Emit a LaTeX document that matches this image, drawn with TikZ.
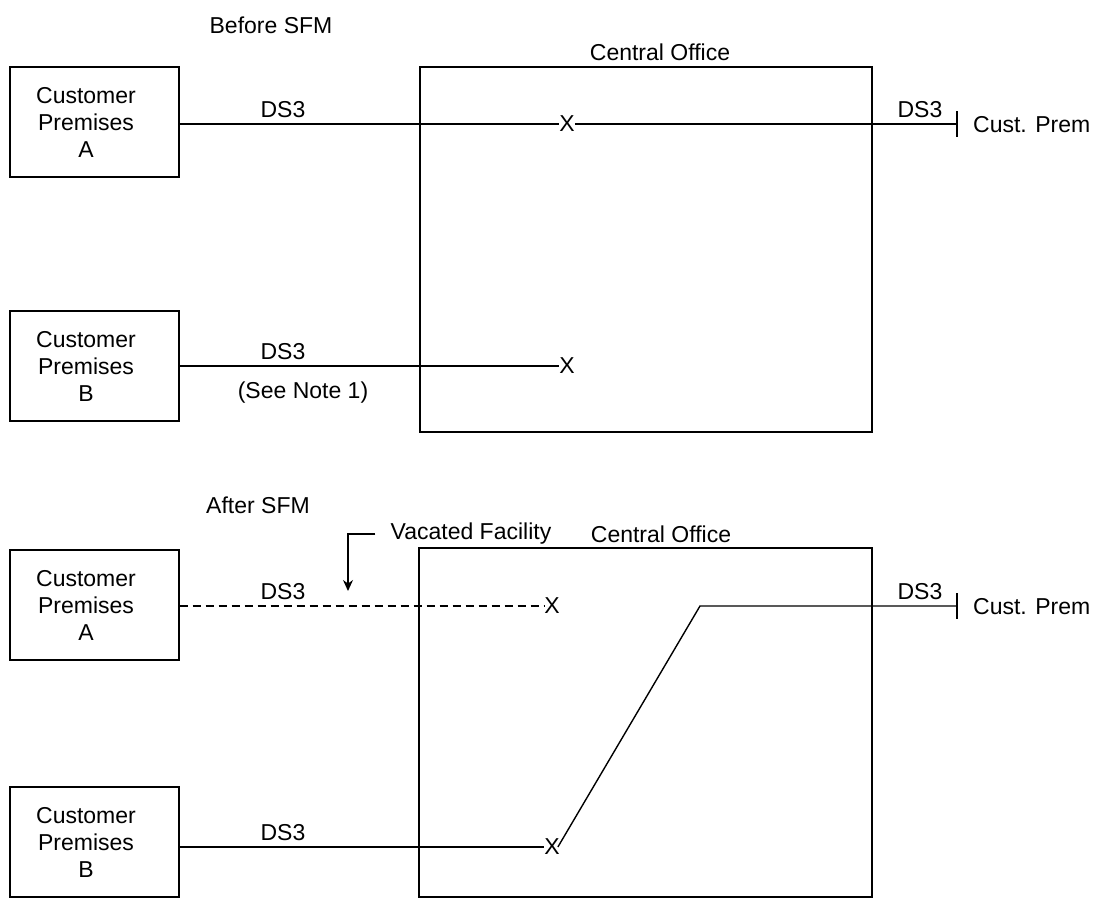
\documentclass[tikz,border=0pt]{standalone}
\usepackage{fontspec}
\setmainfont{Liberation Sans}
\usetikzlibrary{arrows.meta}
\begin{document}
\begin{tikzpicture}[x=1pt,y=-1pt,
  every node/.style={font=\fontsize{23}{27}\selectfont, inner sep=0pt},
  wire/.style={line width=1.4pt},
  dwire/.style={line width=1.4pt, dash pattern=on 8pt off 5pt},
  premise/.style={draw, line width=1.4pt, minimum width=169pt, minimum height=110pt},
  premtext/.style={align=center},
  tick/.style={line width=1.4pt}
]
\useasboundingbox (0,0) rectangle (1098,903);

% ---------- Before SFM ----------
\node (before) at (271,25) {Before SFM};
\node (colab1) at (660,52) {Central Office};
\node[draw, line width=1.4pt, minimum width=452pt, minimum height=365pt] (co1) at (646,249.5) {};

\node[premise] (boxA) at (94.5,122) {};
\node[premtext] (txtA) at (86,122) {Customer\\Premises\\A};
\node[premise] (boxB) at (94.5,366) {};
\node[premtext] (txtB) at (86,366) {Customer\\Premises\\B};

\node (xA) at (567,124) {X};
\node (xB) at (567,366) {X};
\coordinate (tA) at (957,124);

\draw[wire] (boxA.east |- xA.west) -- (xA.west);
\draw[wire] (xA.east) -- (tA);
\draw[tick] (tA) ++(0,-13) -- ++(0,26);
\node[anchor=west] (cpA) at (973,125) {Cust. Prem};
\node (dsA) at (283,110) {DS3};
\node (dsAr) at (920,110) {DS3};

\draw[wire] (boxB.east |- xB.west) -- (xB.west);
\node (dsB) at (283,352) {DS3};
\node (note) at (303,393) {(See Note 1)};

% ---------- After SFM ----------
\node (after) at (258,505) {After SFM};
\node (vac) at (471,534) {Vacated Facility};
\node (colab2) at (661,534) {Central Office};
\node[draw, line width=1.4pt, minimum width=453pt, minimum height=349pt] (co2) at (645.5,722.5) {};

\node[premise] (boxA2) at (94.5,605) {};
\node[premtext] (txtA2) at (86,605) {Customer\\Premises\\A};
\node[premise] (boxB2) at (94.5,842) {};
\node[premtext] (txtB2) at (86,842) {Customer\\Premises\\B};

\coordinate (arrTip) at (348,591);
\draw[wire,-{Stealth[length=11pt,width=10pt]}] ([xshift=-15pt]vac.west) -| (arrTip);

\node (xA2) at (552,606) {X};
\node (xB2) at (552,847) {X};
\coordinate (bend) at (700,606);
\coordinate (tA2) at (957,606);

\draw[dwire] (boxA2.east |- xA2.west) -- (xA2.west);
\node (dsA2) at (283,592) {DS3};

\draw[wire] (boxB2.east |- xB2.west) -- (xB2.west);
\node (dsB2) at (283,833) {DS3};

\draw[wire] ([xshift=-2pt]xB2.east) -- (bend) -- (tA2);
\draw[tick] (tA2) ++(0,-13) -- ++(0,26);
\node[anchor=west] (cpA2) at (973,607) {Cust. Prem};
\node (dsA2r) at (920,592) {DS3};
\end{tikzpicture}
\end{document}
